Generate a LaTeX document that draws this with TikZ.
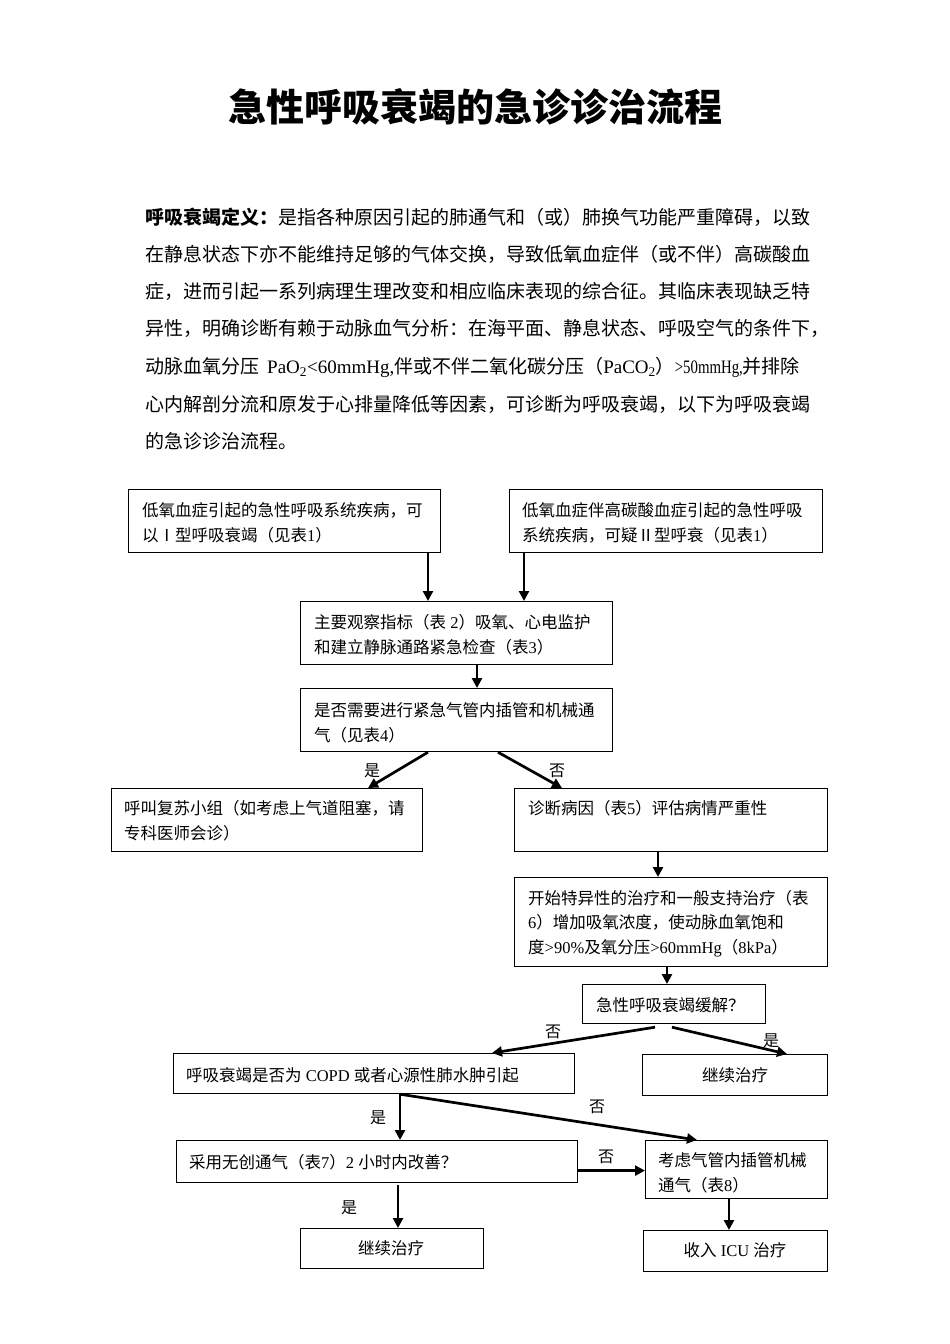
\documentclass[tikz,border=0pt]{standalone}
\usepackage{fontspec}
\setmainfont{Noto Sans CJK SC}
\newfontfamily\latf{Liberation Serif}
\usetikzlibrary{arrows.meta}
\XeTeXlinebreaklocale "zh"
\XeTeXlinebreakskip=0pt plus 2pt
\newcommand\lt[1]{{\latf #1}}
\newcommand\mkbox[5]{\node[box, minimum width=#4pt, minimum height=#5pt] (#1) at (#2,#3) {};}
\tikzset{
 box/.style={draw, line width=1.2pt, inner sep=0pt, anchor=north west},
 tl/.style={anchor=west, inner sep=0pt, font=\fontsize{16.5}{20}\selectfont, text height=14.5pt, text depth=2pt},
 tc/.style={tl, anchor=center},
 lab/.style={inner sep=0pt, font=\fontsize{16}{20}\selectfont, text height=14pt, text depth=2pt},
 arr/.style={line width=2.7pt, -{Triangle[length=10pt,width=10pt]}},
 para/.style={anchor=west, inner sep=0pt, font=\fontsize{19}{22}\selectfont, text height=16.7pt, text depth=2.3pt},
}
\begin{document}
\begin{tikzpicture}[x=1pt,y=-1pt]
\fill[white] (0,0) rectangle (950,1344);
\useasboundingbox (0,0) rectangle (950,1344);
% title
\node[inner sep=0pt, font=\fontsize{38}{40}\selectfont\bfseries] (title) at (475,107) {急性呼吸衰竭的急诊诊治流程};
% paragraph
\node[para] (p1) at (145,217) {\makebox[667pt][s]{{\bfseries 呼吸衰竭定义：}是指各种原因引起的肺通气和（或）肺换气功能严重障碍，以致}};
\node[para] (p2) at (145,254) {\makebox[667pt][s]{在静息状态下亦不能维持足够的气体交换，导致低氧血症伴（或不伴）高碳酸血}};
\node[para] (p3) at (145,291) {\makebox[667pt][s]{症，进而引起一系列病理生理改变和相应临床表现的综合征。其临床表现缺乏特}};
\node[para] (p4) at (145,328) {\makebox[667pt][s]{异性，明确诊断有赖于动脉血气分析：在海平面、静息状态、呼吸空气的条件下，}};
\node[para] (p5) at (145,366) {\makebox[663pt][s]{动脉血氧分压\hspace{8pt}\lt{PaO\textsubscript{2}<60mmHg,}伴或不伴二氧化碳分压（\lt{PaCO\textsubscript{2}}）\scalebox{0.78}[1]{\lt{>50mmHg,}}并排除}};
\node[para] (p6) at (145,404) {\makebox[667pt][s]{心内解剖分流和原发于心排量降低等因素，可诊断为呼吸衰竭，以下为呼吸衰竭}};
\node[para] (p7) at (145,441) {的急诊诊治流程。};
% boxes
\mkbox{A}{128}{489}{312}{63}
\mkbox{B}{509}{489}{313}{63}
\mkbox{C}{300}{601}{312}{63}
\mkbox{D}{300}{688}{312}{63}
\mkbox{E}{111}{788}{311}{63}
\mkbox{F}{514}{788}{313}{63}
\mkbox{G}{514}{877}{313}{89}
\mkbox{H}{582}{984}{183}{39}
\mkbox{I}{173}{1053}{401}{40}
\mkbox{J}{642}{1054}{185}{41}
\mkbox{K}{176}{1140}{401}{42}
\mkbox{L}{645}{1140}{182}{58}
\mkbox{M}{300}{1228}{183}{40}
\mkbox{N}{643}{1230}{184}{41}
% box texts
\node[tl] (a1) at (142,510) {低氧血症引起的急性呼吸系统疾病，可};
\node[tl] (a2) at (142,535) {以Ⅰ型呼吸衰竭（见表\lt{1}）};
\node[tl] (b1) at (522,510) {低氧血症伴高碳酸血症引起的急性呼吸};
\node[tl] (b2) at (522,535) {系统疾病，可疑Ⅱ型呼衰（见表\lt{1}）};
\node[tl] (c1) at (314,622) {主要观察指标（表\lt{ 2}）吸氧、心电监护};
\node[tl] (c2) at (314,647) {和建立静脉通路紧急检查（表\lt{3}）};
\node[tl] (d1) at (314,710) {是否需要进行紧急气管内插管和机械通};
\node[tl] (d2) at (314,735) {气（见表\lt{4}）};
\node[tl] (e1) at (124,808) {呼叫复苏小组（如考虑上气道阻塞，请};
\node[tl] (e2) at (124,833) {专科医师会诊）};
\node[tl] (f1) at (528,808) {诊断病因（表\lt{5}）评估病情严重性};
\node[tl] (g1) at (528,898) {开始特异性的治疗和一般支持治疗（表};
\node[tl] (g2) at (528,922) {\lt{6}）增加吸氧浓度，使动脉血氧饱和};
\node[tl] (g3) at (528,947) {度\lt{>90\%}及氧分压\lt{>60mmHg}（\lt{8kPa}）};
\node[tl] (h1) at (596,1005) {急性呼吸衰竭缓解？};
\node[tl] (i1) at (186,1075) {呼吸衰竭是否为\lt{ COPD }或者心源性肺水肿引起};
\node[tc] (j1) at (735,1075) {继续治疗};
\node[tl] (k1) at (189,1162) {采用无创通气（表\lt{7}）\lt{2 }小时内改善？};
\node[tl] (l1) at (658,1160) {考虑气管内插管机械};
\node[tl] (l2) at (658,1185) {通气（表\lt{8}）};
\node[tc] (m1) at (391,1248) {继续治疗};
\node[tc] (n1) at (735,1250) {收入\lt{ ICU }治疗};
% arrows
\draw[arr] ([xshift=300pt]A.south west) -- ([xshift=128pt]C.north west);
\draw[arr] ([xshift=15pt]B.south west) -- ([xshift=224pt]C.north west);
\draw[arr] ([xshift=177pt]C.south west) -- ([xshift=177pt]D.north west);
\draw[arr] ([xshift=128pt]D.south west) -- ([xshift=257pt]E.north west);
\draw[arr] ([xshift=198pt]D.south west) -- ([xshift=48pt]F.north west);
\draw[arr] ([xshift=144pt]F.south west) -- ([xshift=144pt]G.north west);
\draw[arr] ([xshift=153pt]G.south west) -- ([xshift=85pt]H.north west);
\draw[arr] ([xshift=73pt,yshift=-3pt]H.south west) -- ([xshift=319pt]I.north west);
\draw[arr] ([xshift=90pt,yshift=-3pt]H.south west) -- ([xshift=145pt]J.north west);
\draw[arr] ([xshift=227pt]I.south west) -- ([xshift=224pt]K.north west);
\draw[arr] ([xshift=227pt]I.south west) -- ([xshift=52pt]L.north west);
\draw[arr] ([yshift=-9pt]K.east) -- ([yshift=-9pt]K.east -| L.west);
\draw[arr] ([xshift=222pt,yshift=-2pt]K.south west) -- ([xshift=98pt]M.north west);
\draw[arr] ([xshift=84pt]L.south west) -- ([xshift=86pt]N.north west);
% labels
\node[lab] (y1) at (372,770) {是};
\node[lab] (n2) at (557,770) {否};
\node[lab] (n3) at (553,1031) {否};
\node[lab] (y2) at (771,1040) {是};
\node[lab] (y3) at (378,1117) {是};
\node[lab] (n4) at (597,1106) {否};
\node[lab] (n5) at (606,1156) {否};
\node[lab] (y4) at (349,1207) {是};
\end{tikzpicture}
\end{document}
